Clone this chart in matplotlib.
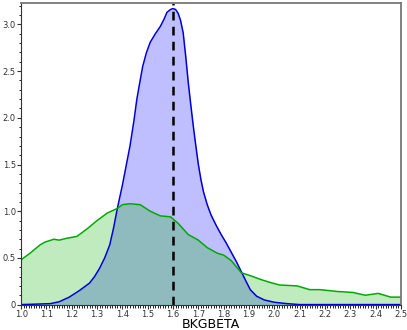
import numpy as np
import matplotlib
matplotlib.use('Agg')
import matplotlib.pyplot as plt
from matplotlib.ticker import MultipleLocator

# posterior (blue) density
post_x = [1.00, 1.06, 1.115, 1.15, 1.19, 1.23, 1.27, 1.29, 1.31, 1.33, 1.35, 1.365, 1.38, 1.40,
          1.42, 1.43, 1.445, 1.457, 1.47, 1.48, 1.495, 1.51, 1.53, 1.55, 1.565, 1.576, 1.59,
          1.60, 1.61, 1.62, 1.63, 1.64, 1.65, 1.66, 1.67, 1.68, 1.69, 1.70, 1.71, 1.72,
          1.735, 1.75, 1.77, 1.79, 1.81, 1.83, 1.85, 1.87, 1.89, 1.905, 1.93, 1.96, 2.00,
          2.05, 2.10, 2.20, 2.50]
post_y = [0.00, 0.005, 0.01, 0.03, 0.08, 0.15, 0.23, 0.30, 0.39, 0.50, 0.64, 0.82, 1.03, 1.28,
          1.56, 1.70, 1.96, 2.20, 2.40, 2.55, 2.70, 2.81, 2.90, 2.98, 3.06, 3.13, 3.16,
          3.17, 3.16, 3.12, 3.04, 2.91, 2.66, 2.38, 2.14, 1.91, 1.70, 1.50, 1.34, 1.21,
          1.07, 0.96, 0.85, 0.75, 0.66, 0.56, 0.46, 0.35, 0.24, 0.16, 0.09, 0.05, 0.025,
          0.01, 0.0, 0.0, 0.0]

# prior (green) density
prior_x = [1.00, 1.035, 1.075, 1.095, 1.13, 1.15, 1.18, 1.22, 1.26, 1.30, 1.34, 1.38, 1.40,
           1.43, 1.47, 1.51, 1.55, 1.59, 1.62, 1.66, 1.70, 1.735, 1.775, 1.80, 1.83, 1.87,
           1.905, 1.945, 1.98, 2.02, 2.09, 2.14, 2.18, 2.25, 2.31, 2.36, 2.41, 2.46, 2.50]
prior_y = [0.48, 0.55, 0.64, 0.67, 0.70, 0.69, 0.71, 0.73, 0.81, 0.90, 0.98, 1.03, 1.07,
           1.08, 1.07, 1.00, 0.95, 0.94, 0.87, 0.75, 0.69, 0.61, 0.55, 0.53, 0.47, 0.34,
           0.31, 0.27, 0.24, 0.21, 0.20, 0.16, 0.16, 0.14, 0.13, 0.10, 0.12, 0.08, 0.08]

best = 1.6

fig = plt.figure(figsize=(4.07, 3.30), dpi=100)
ax = fig.add_axes([0.052, 0.077, 0.933, 0.914])

ax.fill_between(post_x, 0, post_y, color='blue', alpha=0.25, lw=0)
ax.plot(post_x, post_y, color='#0000dd', lw=1.1)
ax.fill_between(prior_x, 0, prior_y, color='#00b000', alpha=0.25, lw=0)
ax.plot(prior_x, prior_y, color='#00aa00', lw=1.1)
ax.axvline(best, color='black', lw=1.8, ls=(0, (3.5, 2.5)))

ax.set_xlim(1.0, 2.5)
ax.set_ylim(0, 3.23)
ax.xaxis.set_major_locator(MultipleLocator(0.1))
ax.xaxis.set_minor_locator(MultipleLocator(0.01))
ax.yaxis.set_minor_locator(MultipleLocator(0.1))
ax.set_yticks([0, 0.5, 1.0, 1.5, 2.0, 2.5, 3.0])
ax.set_yticklabels(['0', '0.5', '1.0', '1.5', '2.0', '2.5', '3.0'])
ax.tick_params(which='major', length=3, width=0.8, labelsize=6, pad=0.8, colors='#333333')
ax.tick_params(which='minor', length=1.8, width=0.6)
for s in ['top', 'right']:
    ax.spines[s].set_color('#777777')
    ax.spines[s].set_linewidth(1.3)
for s in ['left', 'bottom']:
    ax.spines[s].set_color('#333333')
    ax.spines[s].set_linewidth(0.8)
ax.set_xlabel('BKGBETA', fontsize=9, labelpad=-0.3)

fig.savefig('out.png', dpi=100)
